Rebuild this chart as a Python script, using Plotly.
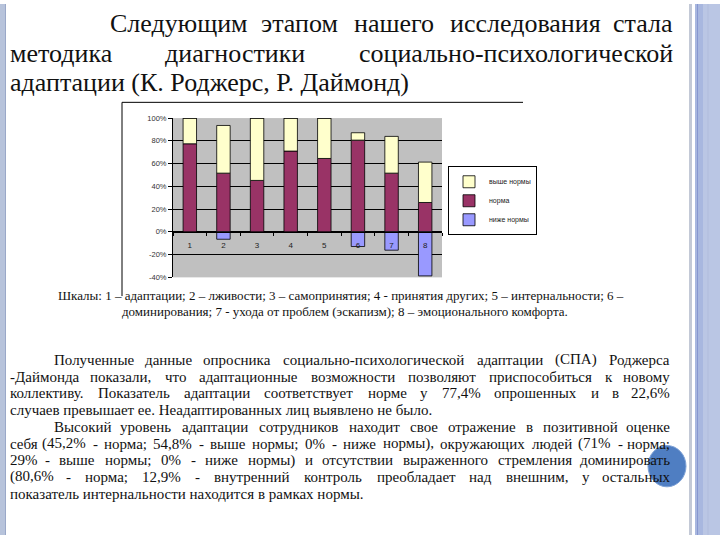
import plotly.graph_objects as go

W, H = 720, 540

# ---------------- data ----------------
categories = ["1", "2", "3", "4", "5", "6", "7", "8"]
norma = [77.4, 51.6, 45.2, 71.0, 64.5, 80.6, 51.6, 25.8]
above_norm = [22.6, 41.9, 54.8, 29.0, 35.5, 6.5, 32.3, 35.5]
below_norm = [0, -6.5, 0, 0, 0, -12.9, -16.1, -38.7]
series_names = ["норма", "выше нормы", "ниже нормы"]
y_ticks = [-40, -20, 0, 20, 40, 60, 80, 100]
y_tick_text = ["-40%", "-20%", "0%", "20%", "40%", "60%", "80%", "100%"]

title_lines = [
    "Следующим этапом нашего исследования стала",
    "методика диагностики социально-психологической",
    "адаптации (К. Роджерс, Р. Даймонд)",
]
caption_lines = [
    "Шкалы: 1 – адаптации; 2 – лживости; 3 – самопринятия; 4 - принятия других; 5 – интернальности; 6 –",
    "доминирования; 7 - ухода от проблем (эскапизм); 8 – эмоционального комфорта.",
]
para_lines = [
    "Полученные данные опросника социально-психологической адаптации (СПА) Роджерса",
    "-Даймонда показали, что адаптационные возможности позволяют приспособиться к новому",
    "коллективу. Показатель адаптации соответствует норме у 77,4% опрошенных и в 22,6%",
    "случаев превышает ее. Неадаптированных лиц выявлено не было.",
    "Высокий уровень адаптации сотрудников находит свое отражение в позитивной оценке",
    "себя (45,2% - норма; 54,8% - выше нормы; 0% - ниже нормы), окружающих людей (71% - норма;",
    "29% - выше нормы; 0% - ниже нормы) и отсутствии выраженного стремления доминировать",
    "(80,6% - норма; 12,9% - внутренний контроль преобладает над внешним, у остальных",
    "показатель интернальности находится в рамках нормы.",
]

# ---------------- helpers ----------------
def px(x):
    return x / W

def py(y):
    return 1 - y / H

# approximate Liberation Serif (Times) advance widths, in em
CW = {
    "а": .444, "б": .5, "в": .47, "г": .41, "д": .5, "е": .444, "ж": .69, "з": .4,
    "и": .53, "й": .53, "к": .48, "л": .5, "м": .62, "н": .53, "о": .5, "п": .53,
    "р": .5, "с": .444, "т": .44, "у": .5, "ф": .65, "х": .5, "ц": .53, "ч": .5,
    "ш": .77, "щ": .77, "ъ": .55, "ы": .7, "ь": .47, "э": .44, "ю": .74, "я": .48,
    " ": .25, ".": .25, ",": .25, ";": .278, ":": .278, "(": .333, ")": .333,
    "-": .333, "–": .5, "%": .833,
}
def est_width(word, size):
    w = 0.0
    for ch in word:
        if ch in CW:
            w += CW[ch]
        elif ch.isdigit():
            w += 0.5
        elif ch.isupper():
            w += 0.70
        else:
            w += 0.5
    return w * size

annotations = []
FONT = "'Liberation Serif', 'Times New Roman', Times, serif"
TXT = "#111111"

def add_text(text, x, y, size, anchor="left"):
    annotations.append(dict(
        text=text, x=px(x), y=py(y), xref="paper", yref="paper",
        xanchor=anchor, yanchor="middle", showarrow=False,
        font=dict(family=FONT, size=size, color=TXT)))

def add_justified(line, x0, x1, y, size):
    words = line.split(" ")
    ws = [est_width(w, size) for w in words]
    gap = (x1 - x0 - sum(ws)) / (len(words) - 1)
    cur = x0
    for i, (w, ww) in enumerate(zip(words, ws)):
        if i == 0:
            add_text(w, x0, y, size, "left")
        elif i == len(words) - 1:
            add_text(w, x1, y, size, "right")
        else:
            add_text(w, cur + ww / 2, y, size, "center")
        cur += ww + gap

# ---------------- figure ----------------
fig = go.Figure()
colors = ["#993366", "#FFFFCC", "#9999FF"]
ranks = [2, 1, 3]
for name, vals, col, rk in zip(series_names, [norma, above_norm, below_norm], colors, ranks):
    fig.add_trace(go.Bar(
        x=categories, y=vals, name=name, legendrank=rk,
        marker=dict(color=col, line=dict(color="black", width=0.8)),
    ))

# plot area geometry (pixels)
PL, PR, PT, PB = 173, 442, 116, 278
ymin, ymax = -40, 100
dom_y = [py(PB), py(PT)]
zero_pos = dom_y[0] + (0 - ymin) / (ymax - ymin) * (dom_y[1] - dom_y[0])

SANS = "Liberation Sans, Arial, sans-serif"
fig.update_layout(
    width=W, height=H,
    margin=dict(l=0, r=0, t=0, b=0),
    paper_bgcolor="white",
    plot_bgcolor="#C0C0C0",
    barmode="relative",
    bargap=0.6,
    showlegend=True,
    legend=dict(
        x=px(448), y=py(165), xanchor="left", yanchor="top",
        bgcolor="white", bordercolor="black", borderwidth=1,
        font=dict(family=SANS, size=7, color="#222"),
        itemwidth=30, tracegroupgap=0,
    ),
    xaxis=dict(
        domain=[px(PL), px(PR)], type="category",
        anchor="free", position=zero_pos,
        showline=True, linecolor="black", linewidth=1,
        ticks="outside", tickson="boundaries", ticklen=3, tickcolor="black",
        ticklabelstandoff=6,
        tickfont=dict(family=SANS, size=8, color="#222"),
        showgrid=False, zeroline=False,
    ),
    yaxis=dict(
        domain=dom_y, range=[ymin, ymax],
        tickmode="array", tickvals=y_ticks, ticktext=y_tick_text,
        ticks="outside", ticklen=4, tickcolor="black",
        showline=True, linecolor="black", linewidth=1,
        gridcolor="black", gridwidth=1,
        zeroline=True, zerolinecolor="black", zerolinewidth=1,
        tickfont=dict(family=SANS, size=7.5, color="#333"),
    ),
)

shapes = []
def rect(x0, x1, y0, y1, color, layer="above"):
    shapes.append(dict(type="rect", xref="paper", yref="paper",
                       x0=px(x0), x1=px(x1), y0=py(y1), y1=py(y0),
                       fillcolor=color, line=dict(width=0), layer=layer))
def line(x0, y0, x1, y1, color="black", width=1):
    shapes.append(dict(type="line", xref="paper", yref="paper",
                       x0=px(x0), x1=px(x1), y0=py(y0), y1=py(y1),
                       line=dict(color=color, width=width)))

# slide side stripes
rect(0, 6, 0, 540, "#B7C3DB")
line(5.5, 0, 5.5, 540, "#9AA8C8", 1)
rect(689, 692, 0, 540, "#C3C9D6")
rect(695, 703, 0, 540, "#A8B7DF")
line(697.5, 0, 697.5, 540, "#8797CF", 1)
rect(703, 720, 0, 540, "#BAC6E4")
line(708, 0, 708, 540, "#B0BCDC", 1)

# chart picture frame
line(122, 100, 523, 100)
line(122, 100, 122, 297)

# decorative circle
shapes.append(dict(type="circle", xref="paper", yref="paper",
                   x0=px(648), x1=px(686), y0=py(491), y1=py(449),
                   fillcolor="#4F7EC2", line=dict(color="#7FA2D6", width=1)))

# ---------------- texts ----------------
TS = 26
add_justified(title_lines[0], 108, 675, 20, TS)
add_justified(title_lines[1], 8, 675, 50, TS)
add_text(title_lines[2], 8, 80, TS)

CS = 13
add_text(caption_lines[0], 341, 296, CS, "center")
add_text(caption_lines[1], 345, 313, CS, "center")

PS = 15
para_y0, para_dy = 362, 17
justified = [True, True, True, False, True, True, True, True, False]
indent = [52, 8, 8, 8, 52, 8, 8, 8, 8]
for i, (ln, j, ind) in enumerate(zip(para_lines, justified, indent)):
    yy = para_y0 + i * para_dy
    if j:
        add_justified(ln, ind, 672, yy, PS)
    else:
        add_text(ln, ind, yy, PS)

fig.update_layout(shapes=shapes, annotations=annotations)
fig.write_html(
    "out.html",
    config={"displayModeBar": False},
    post_script="document.body.style.margin='0';document.body.style.padding='0';document.body.style.overflow='hidden';",
)
